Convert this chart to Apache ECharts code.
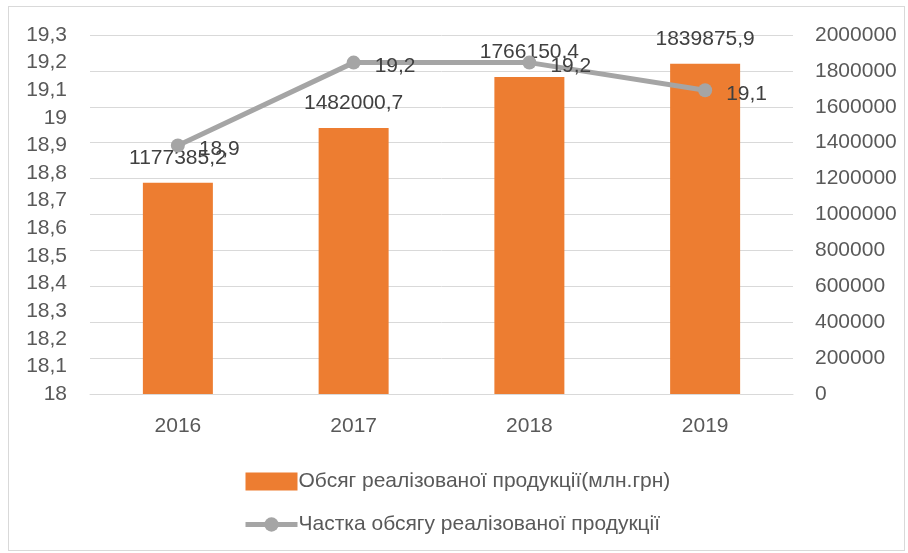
<!DOCTYPE html>
<html>
<head>
<meta charset="utf-8">
<script src="https://cdn.jsdelivr.net/npm/echarts@6/dist/echarts.min.js"></script>
<style>
  html, body { margin: 0; padding: 0; background: #fff; }
  #frame {
    position: absolute; left: 8px; top: 6px; width: 897px; height: 545px;
    border: 1px solid #d9d9d9; box-sizing: border-box;
  }
  #chart { position: absolute; left: 0; top: 0; width: 908px; height: 553px; }
</style>
</head>
<body>
<div id="frame"></div>
<div id="chart"></div>
<script>
const years = ['2016', '2017', '2018', '2019']
const salesVolume = [1177385.2, 1482000.7, 1766150.4, 1839875.9]
const salesShare = [18.9, 19.2, 19.2, 19.1]
const barName = 'Обсяг реалізованої продукції(млн.грн)'
const lineName = 'Частка обсягу реалізованої продукції'

const font = '"Liberation Sans", Arial, sans-serif'
const comma = (v) => String(v).replace('.', ',')

const chart = echarts.init(document.getElementById('chart'))

chart.setOption({
  animation: false,
  textStyle: { fontFamily: font },
  grid: { left: 90, right: 115, top: 35, bottom: 159 },
  legend: {
    orient: 'vertical',
    left: 243,
    top: 471,
    padding: 0,
    itemWidth: 52,
    itemHeight: 18,
    itemGap: 22,
    textStyle: { fontSize: 21, color: '#595959', fontFamily: font, padding: [0, 0, 0, -4] },
    data: [
      { name: barName, icon: 'rect' },
      { name: lineName, lineStyle: { width: 5, color: '#a5a5a5' } }
    ]
  },
  xAxis: {
    type: 'category',
    data: years,
    axisTick: { show: false },
    axisLine: { lineStyle: { color: '#d9d9d9', width: 1 } },
    axisLabel: { color: '#595959', fontSize: 21, margin: 22 }
  },
  yAxis: [
    {
      type: 'value',
      min: 18,
      max: 19.3,
      interval: 0.1,
      splitLine: { show: false },
      axisLine: { show: false },
      axisTick: { show: false },
      axisLabel: {
        color: '#595959',
        fontSize: 21,
        margin: 23,
        formatter: (v) => comma(Number(v.toFixed(1)))
      }
    },
    {
      type: 'value',
      min: 0,
      max: 2000000,
      interval: 200000,
      splitLine: { lineStyle: { color: '#d9d9d9', width: 1 } },
      axisLine: { show: false },
      axisTick: { show: false },
      axisLabel: {
        color: '#595959',
        fontSize: 21,
        margin: 22,
        formatter: (v) => String(Math.round(v))
      }
    }
  ],
  series: [
    {
      name: barName,
      type: 'bar',
      yAxisIndex: 1,
      data: salesVolume,
      barWidth: 70,
      itemStyle: { color: '#ed7d31' },
      label: {
        show: true,
        position: 'top',
        distance: 14,
        color: '#404040',
        fontSize: 21,
        formatter: (p) => comma(p.value)
      },
      z: 2
    },
    {
      name: lineName,
      type: 'line',
      yAxisIndex: 0,
      data: salesShare,
      symbol: 'circle',
      symbolSize: 14,
      lineStyle: { color: '#a5a5a5', width: 5 },
      itemStyle: { color: '#a5a5a5' },
      label: {
        show: true,
        position: 'right',
        distance: 14,
        offset: [0, 4],
        color: '#404040',
        fontSize: 21,
        formatter: (p) => comma(p.value)
      },
      z: 3
    }
  ]
})
</script>
</body>
</html>
